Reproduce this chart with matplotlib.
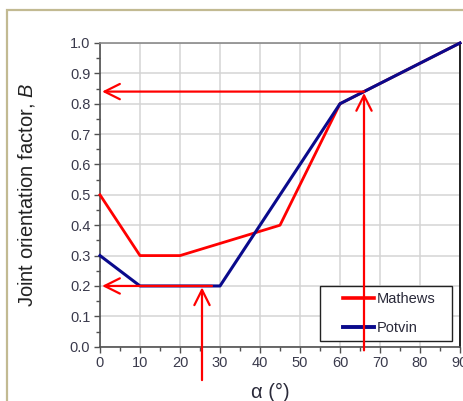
#!/usr/bin/env python3
# -*- coding: utf-8 -*-
"""
Joint orientation factor B versus alpha, Mathews and Potvin curves,
with two worked readings marked by red arrows.
"""

import matplotlib
matplotlib.use("Agg")
import matplotlib.pyplot as plt
from matplotlib.patches import Rectangle
from matplotlib.lines import Line2D

# ============================================================
# Data
# ============================================================
alpha_mathews = [0, 10, 20, 45, 60, 90]
b_mathews = [0.5, 0.3, 0.3, 0.4, 0.8, 1.0]

alpha_potvin = [0, 10, 30, 60, 90]
b_potvin = [0.3, 0.2, 0.2, 0.8, 1.0]

# worked readings: alpha -> B
read_alpha = [25.5, 66]
read_b = [0.2, 0.84]
read_hstart = [28, 66]        # where the horizontal leader starts (alpha)
read_vstart = [-0.11, -0.012]  # where the vertical leader starts (B)

x_ticks = [0, 10, 20, 30, 40, 50, 60, 70, 80, 90]
y_ticks = [0.0, 0.1, 0.2, 0.3, 0.4, 0.5, 0.6, 0.7, 0.8, 0.9, 1.0]

# ============================================================
# Style
# ============================================================
plt.rcParams["font.family"] = ["Liberation Sans", "DejaVu Sans"]
plt.rcParams["mathtext.fontset"] = "custom"
plt.rcParams["mathtext.it"] = "Liberation Sans:italic"

RED = "#ff0000"
NAVY = "#0a0a8c"
TICK_COL = "#3a3a4c"
W, H = 464, 401

fig = plt.figure(figsize=(W / 100, H / 100), dpi=100)
fig.patch.set_facecolor("white")

# tan outline framing the chart area (runs off the right/bottom edge)
fig.patches.append(Rectangle((7 / W, -0.1), 1.2, (H - 10) / H + 0.1,
                             transform=fig.transFigure, fill=False,
                             edgecolor="#c2ba92", linewidth=1.6))

ax = fig.add_axes([100 / W, 1 - 346.7 / H, 360 / W, (346.7 - 43) / H])

# ============================================================
# Curves
# ============================================================
ax.plot(alpha_mathews, b_mathews, color=RED, lw=2.0, clip_on=False,
        zorder=3, label="Mathews")
ax.plot(alpha_potvin, b_potvin, color=NAVY, lw=2.2, clip_on=False,
        zorder=4, label="Potvin")

# ============================================================
# Axes, ticks, grid
# ============================================================
ax.set_xlim(0, 90)
ax.set_ylim(0, 1.0)
ax.set_xticks(x_ticks)
ax.set_yticks(y_ticks)
ax.set_xticklabels([str(v) for v in x_ticks])
ax.set_yticklabels([f"{v:.1f}" for v in y_ticks])
ax.set_xticks([v + 5 for v in x_ticks[:-1]], minor=True)
ax.set_yticks([v + 0.05 for v in y_ticks[:-1]], minor=True)

ax.tick_params(which="major", direction="out", length=4, width=1,
               color="#505050", labelsize=10.5, labelcolor=TICK_COL, pad=3)
ax.tick_params(which="minor", direction="out", length=3, width=1,
               color="#505050")

ax.grid(True, which="major", color="#d4d4d4", lw=1.1)
ax.set_axisbelow(True)

ax.spines["left"].set_color("#505050")
ax.spines["bottom"].set_color("#505050")
ax.spines["top"].set_color("#8a8a8a")
ax.spines["right"].set_color("black")
for s in ax.spines.values():
    s.set_linewidth(1.2)

ax.set_ylabel("Joint orientation factor, $B$", fontsize=14.5, color="#222222")
ax.yaxis.set_label_coords(-0.175, 0.5)
ax.set_xlabel("α (°)", fontsize=14.5, color="#2a2a3a")
ax.xaxis.set_label_coords(0.472, -0.118)

# ============================================================
# Legend with a plain square box
# ============================================================
ax.add_patch(Rectangle((0.611, 0.019), 0.367, 0.181, transform=ax.transAxes,
                       fill=True, facecolor="white", edgecolor="#222222",
                       lw=1.0, zorder=5))
handles = [Line2D([], [], color=RED, lw=2.6),
           Line2D([], [], color=NAVY, lw=2.8)]
leg = ax.legend(handles, ["Mathews", "Potvin"], loc="center left",
                bbox_to_anchor=(0.655, 0.11), frameon=False, fontsize=10.5,
                handlelength=2.1, handletextpad=0.2, labelspacing=1.05,
                borderpad=0)
leg.set_zorder(6)
for t in leg.get_texts():
    t.set_color("#2a2a3a")

# ============================================================
# Reading arrows
# ============================================================
arrow_kw = dict(arrowstyle="->,head_length=1.1,head_width=0.55",
                mutation_scale=10, color=RED, lw=1.6)
for a, b, h0, v0 in zip(read_alpha, read_b, read_hstart, read_vstart):
    # vertical leader up to the curve
    ax.annotate("", xy=(a, b), xytext=(a, v0), xycoords="data",
                arrowprops=dict(arrow_kw, shrinkA=0, shrinkB=1),
                annotation_clip=False, zorder=7)
    # horizontal leader across to the B axis
    ax.annotate("", xy=(0, b), xytext=(h0, b), xycoords="data",
                arrowprops=dict(arrow_kw, shrinkA=0, shrinkB=1.5),
                annotation_clip=False, zorder=7)

fig.savefig("out.png", dpi=100)
